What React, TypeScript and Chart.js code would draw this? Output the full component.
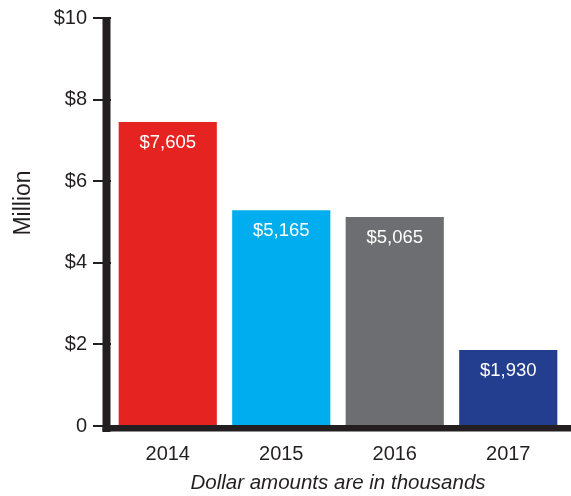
import React, { useEffect, useRef } from "react";
import { Chart, registerables } from "chart.js";

Chart.register(...registerables);

const categories = ["2014", "2015", "2016", "2017"];
const values = [7.45, 5.29, 5.12, 1.86];
const valueLabels = ["$7,605", "$5,165", "$5,065", "$1,930"];
const barColors = ["#E52421", "#00AEEF", "#6D6E71", "#243E8F"];
const yTitle = "Million";
const xTitle = "Dollar amounts are in thousands";

const INK = "#231F20";
const FONT = "'Liberation Sans', Arial, Helvetica, sans-serif";

const decorPlugin = {
  id: "decor",
  afterDatasetsDraw(chart: any) {
    const ctx = chart.ctx;
    const area = chart.chartArea;
    const meta = chart.getDatasetMeta(0);
    ctx.save();
    ctx.fillStyle = "#FFFFFF";
    ctx.font = `18.5px ${FONT}`;
    ctx.textAlign = "center";
    ctx.textBaseline = "middle";
    meta.data.forEach((bar: any, i: number) => {
      ctx.fillText(valueLabels[i], bar.x, bar.y + 21);
    });
    ctx.restore();

    ctx.save();
    ctx.fillStyle = INK;
    ctx.fillRect(area.left - 8.5, area.top - 1, 8, area.bottom + 6 - area.top + 1);
    ctx.fillRect(area.left - 8.5, area.bottom - 1, chart.width - (area.left - 8.5), 6.5);
    ctx.restore();

    ctx.save();
    ctx.fillStyle = INK;
    ctx.font = `23px ${FONT}`;
    ctx.textAlign = "center";
    ctx.textBaseline = "middle";
    ctx.translate(24, 203);
    ctx.rotate(-Math.PI / 2);
    ctx.fillText(yTitle, 0, 0);
    ctx.restore();
  },
};

export default function App() {
  const canvasRef = useRef<HTMLCanvasElement | null>(null);

  useEffect(() => {
    if (!canvasRef.current) return;
    const chart = new Chart(canvasRef.current, {
      type: "bar",
      data: {
        labels: categories,
        datasets: [
          {
            data: values,
            backgroundColor: barColors,
            borderWidth: 0,
            barPercentage: 0.865,
            categoryPercentage: 1,
          },
        ],
      },
      options: {
        responsive: false,
        animation: false,
        devicePixelRatio: 1,
        layout: { padding: { top: 18, right: 6, left: 0, bottom: 0 } },
        plugins: {
          legend: { display: false },
          tooltip: { enabled: false },
        },
        scales: {
          x: {
            grid: { display: false },
            border: { display: false },
            ticks: {
              color: INK,
              padding: 8,
              font: { family: FONT, size: 20 },
            },
            title: {
              display: true,
              text: xTitle,
              color: INK,
              padding: { top: 0, bottom: 0 },
              font: { family: FONT, size: 20.5, style: "italic" },
            },
            afterFit: (scale: any) => {
              scale.height = 70;
            },
          },
          y: {
            min: 0,
            max: 10,
            grid: {
              drawOnChartArea: false,
              drawTicks: true,
              tickLength: 18,
              lineWidth: 2,
              color: INK,
            },
            border: { display: false },
            ticks: {
              stepSize: 2,
              color: INK,
              padding: 6,
              font: { family: FONT, size: 20 },
              callback: (v: any) => (Number(v) === 0 ? "0" : "$" + v),
            },
            afterFit: (scale: any) => {
              scale.width = 111;
            },
          },
        },
      },
      plugins: [decorPlugin],
    });
    return () => chart.destroy();
  }, []);

  return (
    <div style={{ position: "fixed", left: 0, top: 0, width: 571, height: 496, background: "#FFFFFF" }}>
      <canvas ref={canvasRef} width={571} height={496} style={{ display: "block" }} />
    </div>
  );
}
